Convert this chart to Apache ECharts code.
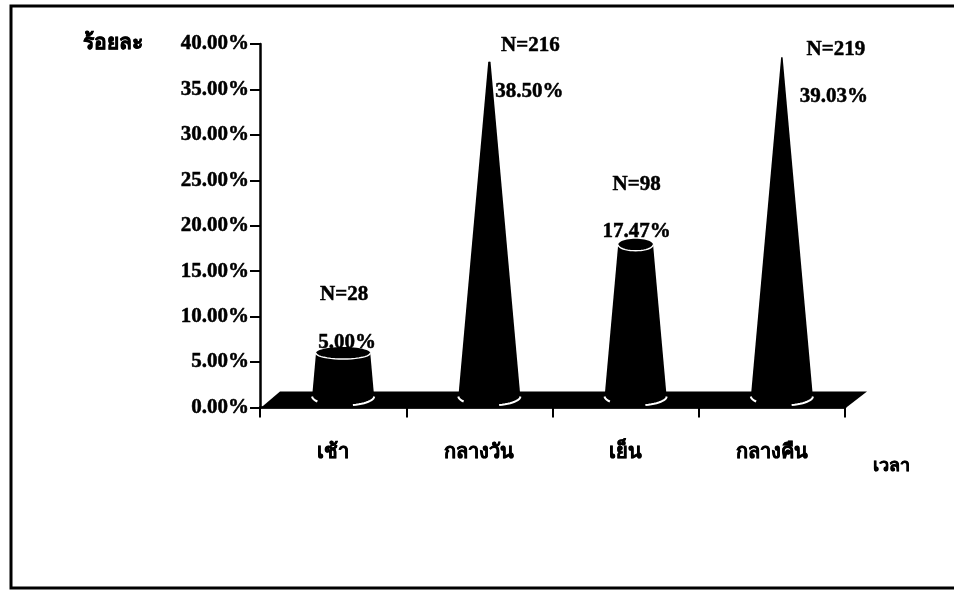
<!DOCTYPE html>
<html><head><meta charset="utf-8">
<style>html,body{margin:0;padding:0;background:#fff}#c{width:954px;height:590px}</style>
<script src="https://cdn.jsdelivr.net/npm/echarts@6/dist/echarts.min.js"></script>
</head><body><div id="c"></div>
<script>
const categories = ['เช้า', 'กลางวัน', 'เย็น', 'กลางคืน'];
const percentValues = [5.00, 38.50, 17.47, 39.03];
const countValues = [28, 216, 98, 219];

// layout of the pseudo-3D cones and their labels (pixels)
const countLabelDx = [1, 41, 1, 54];
const percentLabelDx = [4, 40, 1, 52];
const countLabelY = [295, 46, 185, 50];
const percentLabelY = [343, 92, 232, 97];
const FONT = '"Liberation Serif","Noto Sans","DejaVu Sans",serif';
const depthX = 10, baseLift = 11, baseHalf = 31, baseRy = 9, foreshorten = 0.956;

function arc(cx, cy, rx, ry, a, b, n) {
  const pts = [];
  for (let i = 0; i <= n; i++) {
    const t = a + (b - a) * i / n;
    pts.push([cx + rx * Math.cos(t), cy + ry * Math.sin(t)]);
  }
  return pts;
}

function renderFloor(params, api) {
  const a = api.coord([0, 0]), size = api.size([1, 0]);
  const x0 = a[0] - size[0] / 2, x1 = x0 + size[0] * 4, y = a[1] + 1;
  return {
    type: 'polygon',
    shape: { points: [[x0, y], [x0 + 20, y - 17], [x1 + 22, y - 17], [x1, y]] },
    style: { fill: '#000' }
  };
}

function renderCone(params, api) {
  const i = api.value(0), v = api.value(1);
  const p0 = api.coord([i, 0]), pv = api.coord([i, v]);
  const cx = p0[0] + depthX, by = p0[1] - baseLift;
  const ty = by - (p0[1] - pv[1]) * foreshorten;
  const rx = baseHalf * (1 - v / 40);
  const ry = Math.min(6, rx * 0.35);
  // body runs lower-left -> along the base front -> right -> over the top back to left
  const pts = arc(cx, by, baseHalf, baseRy, Math.PI, 0, 24)
    .concat(arc(cx, ty, rx, ry, 0, -Math.PI, 24));
  const children = [
    { type: 'polygon', shape: { points: pts }, style: { fill: '#000' } },
    { type: 'polyline', shape: { points: arc(cx, by, baseHalf, baseRy, 0, 1.25, 12) },
      style: { stroke: '#fff', lineWidth: 2, fill: null } },
    { type: 'polyline', shape: { points: arc(cx, by, baseHalf, baseRy, 2.55, Math.PI, 6) },
      style: { stroke: '#fff', lineWidth: 2, fill: null } }
  ];
  if (rx > 8) {
    children.push({ type: 'polyline', shape: { points: arc(cx, ty, rx, ry, 0, Math.PI, 20) },
      style: { stroke: '#fff', lineWidth: 1.4, fill: null } });
  }
  const txt = (s, x, y) => ({ type: 'text', z2: 10,
    style: { text: s, x: x, y: y, align: 'center', verticalAlign: 'middle',
      font: 'bold 21px ' + FONT, fill: '#000', stroke: '#000', lineWidth: 0.5 } });
  children.push(txt('N=' + countValues[i], cx + countLabelDx[i], countLabelY[i]));
  children.push(txt(percentValues[i].toFixed(2) + '%', cx + percentLabelDx[i], percentLabelY[i]));
  return { type: 'group', children };
}

const chart = echarts.init(document.getElementById('c'), null, { renderer: 'canvas' });
chart.setOption({
  animation: false,
  backgroundColor: '#fff',
  grid: { left: 260, right: 109, top: 44, bottom: 182.5 },
  graphic: [{
    type: 'rect', silent: true, z: -1,
    shape: { x: 11, y: 6, width: 1000, height: 582 },
    style: { fill: null, stroke: '#000', lineWidth: 3 }
  }],
  xAxis: {
    type: 'category', data: categories, boundaryGap: true,
    name: 'เวลา', nameLocation: 'end', nameGap: 28,
    nameTextStyle: { fontFamily: FONT, fontWeight: 'bold', fontSize: 18, color: '#000',
      textBorderColor: '#000', textBorderWidth: 0.5,
      verticalAlign: 'top', padding: [50, 0, 0, 0] },
    axisLine: { lineStyle: { color: '#000', width: 2.5 } },
    axisTick: { show: true, length: 10, lineStyle: { color: '#000', width: 2 } },
    axisLabel: { color: '#000', fontFamily: FONT, fontWeight: 'bold', fontSize: 20, margin: 35,
      textBorderColor: '#000', textBorderWidth: 0.5 }
  },
  yAxis: {
    type: 'value', min: 0, max: 40, interval: 5,
    name: 'ร้อยละ', nameLocation: 'end', nameGap: 0,
    nameTextStyle: { fontFamily: FONT, fontWeight: 'bold', fontSize: 21, color: '#000',
      textBorderColor: '#000', textBorderWidth: 0.5,
      align: 'right', verticalAlign: 'middle', padding: [0, 117, 0, 0] },
    splitLine: { show: false },
    axisLine: { show: true, lineStyle: { color: '#000', width: 2.5 } },
    axisTick: { show: true, length: 10, lineStyle: { color: '#000', width: 2 } },
    axisLabel: { color: '#000', fontFamily: FONT, fontWeight: 'bold', fontSize: 21, margin: 11,
      textBorderColor: '#000', textBorderWidth: 0.5,
      formatter: v => v.toFixed(2) + '%' }
  },
  series: [
    { type: 'custom', coordinateSystem: 'cartesian2d', silent: true, z: 1, clip: false,
      renderItem: renderFloor, data: [[0, 0]] },
    { type: 'custom', coordinateSystem: 'cartesian2d', silent: true, z: 3, clip: false,
      renderItem: renderCone, encode: { x: 0, y: 1 },
      data: percentValues.map((v, i) => [i, v]) }
  ]
});
</script></body></html>
